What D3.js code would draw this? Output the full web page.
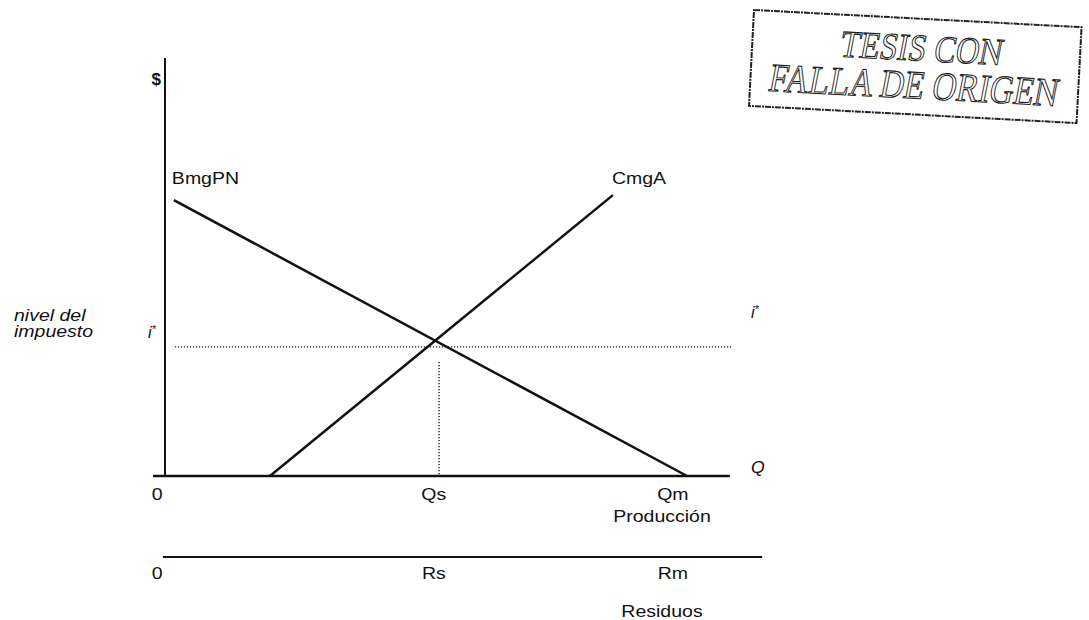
<!DOCTYPE html>
<html>
<head>
<meta charset="utf-8">
<script src="https://cdn.jsdelivr.net/npm/d3@7/dist/d3.min.js"></script>
<style>
  html, body { margin: 0; padding: 0; background: #fff; }
  svg { display: block; }
  text { font-family: "Liberation Sans", Arial, sans-serif; fill: #111; }
</style>
</head>
<body>
<svg id="chart" width="1089" height="620"></svg>
<script>
// Datos del gráfico (unidades: Q en 0..100 = Qm, $ en 0..100)
const bmgPN = [{q: 1.7, p: 66.0}, {q: 100, p: 0}];      // beneficio marginal privado neto
const cmgA = [{q: 20.1, p: 0}, {q: 85.8, p: 67.2}];     // costo marginal de abatimiento
const iStar = 30.9;                                      // nivel del impuesto
const qS = 52.5;                                         // produccion socialmente optima
const qM = 100;                                          // produccion maxima privada
const prodTicks = [{q: -1.5, label: "0"}, {q: qS - 1, label: "Qs"}, {q: qM - 2.7, label: "Qm"}];
const resTicks = [{q: -1.5, label: "0"}, {q: qS - 1, label: "Rs"}, {q: qM - 2.7, label: "Rm"}];
const stampLines = ["TESIS CON", "FALLA DE ORIGEN"];

const svg = d3.select("#chart");

// Escalas
const x = d3.scaleLinear().domain([0, 100]).range([165, 687]);
const y = d3.scaleLinear().domain([0, 100]).range([476, 58]);

const line = d3.line().x(d => x(d.q)).y(d => y(d.p));

// helper para texto algo ensanchado (el escaneo esta estirado)
function label(txt, px, py, opts = {}) {
    const t = svg.append("text")
        .attr("transform", `translate(${px},${py}) scale(${opts.sx || 1.22},1)`)
        .attr("font-size", (opts.size || 16) + "px")
        .attr("text-anchor", opts.anchor || "start")
        .attr("font-style", opts.italic ? "italic" : "normal")
        .attr("font-weight", opts.bold ? "bold" : "normal");
    if (opts.star) {
        t.append("tspan").text(txt);
        t.append("tspan").attr("font-size", "11px").attr("dy", -5).text("*");
    } else {
        t.text(txt);
    }
    return t;
}

// Eje vertical ($)
svg.append("line")
    .attr("x1", x(0)).attr("x2", x(0))
    .attr("y1", y(100)).attr("y2", y(0))
    .attr("stroke", "#111").attr("stroke-width", 2);

// Eje horizontal (Producción)
svg.append("line")
    .attr("x1", x(-2.3)).attr("x2", x(108.2))
    .attr("y1", y(0)).attr("y2", y(0))
    .attr("stroke", "#111").attr("stroke-width", 2.5);

// Linea de Residuos (eje invertido)
svg.append("line")
    .attr("x1", x(-0.4)).attr("x2", x(114.4))
    .attr("y1", 557).attr("y2", 557)
    .attr("stroke", "#111").attr("stroke-width", 2);

// Lineas punteadas de i* y Qs
svg.append("line")
    .attr("x1", x(1.9)).attr("x2", x(108.6))
    .attr("y1", y(iStar)).attr("y2", y(iStar))
    .attr("stroke", "#222").attr("stroke-width", 1.4)
    .attr("stroke-dasharray", "1.3,1.7");

svg.append("line")
    .attr("x1", x(qS)).attr("x2", x(qS))
    .attr("y1", y(27.3)).attr("y2", y(0))
    .attr("stroke", "#222").attr("stroke-width", 1.4)
    .attr("stroke-dasharray", "1.3,1.7");

// Curvas
[bmgPN, cmgA].forEach(d => {
    svg.append("path")
        .datum(d)
        .attr("fill", "none")
        .attr("stroke", "#111")
        .attr("stroke-width", 2.5)
        .attr("d", line);
});

// Etiquetas de curvas y ejes
label("$", x(0) - 4, 85, {anchor: "end", bold: true, size: 17, sx: 1});
label("BmgPN", x(bmgPN[0].q) - 2, 184);
label("CmgA", x(cmgA[1].q) - 1, 184);
label("nivel del", 14, 321, {italic: true});
label("impuesto", 14, 337, {italic: true});
label("i", 148, 338, {italic: true, star: true, sx: 1});
label("i", 751, 318, {italic: true, star: true, sx: 1});
label("Q", 751, 473, {italic: true, sx: 1.1});

prodTicks.forEach(t => label(t.label, x(t.q), 500, {anchor: "middle"}));
label("Producción", x(qM) - 25, 522, {anchor: "middle"});
resTicks.forEach(t => label(t.label, x(t.q), 579, {anchor: "middle"}));
label("Residuos", x(qM) - 25, 617, {anchor: "middle"});

// Sello "TESIS CON FALLA DE ORIGEN"
const stamp = svg.append("g").attr("transform", "translate(754,10) rotate(3)");
stamp.append("rect")
    .attr("x", 0).attr("y", 0)
    .attr("width", 328).attr("height", 96)
    .attr("fill", "none")
    .attr("stroke", "#222")
    .attr("stroke-width", 2)
    .attr("stroke-dasharray", "6,1,2,1");

stamp.selectAll("text.stamp")
    .data(stampLines)
    .enter()
    .append("text")
    .attr("class", "stamp")
    .attr("transform", (d, i) => i === 0
        ? "translate(168,42) skewX(-8) scale(0.85,1)"
        : "translate(162,80) skewX(-8) scale(0.83,1)")
    .attr("text-anchor", "middle")
    .attr("font-size", (d, i) => i === 0 ? "38px" : "40px")
    .style("font-family", "'Liberation Serif', 'DejaVu Serif', serif")
    .style("fill", "#fff")
    .style("stroke", "#222")
    .style("stroke-width", 1.1)
    .text(d => d);
</script>
</body>
</html>
